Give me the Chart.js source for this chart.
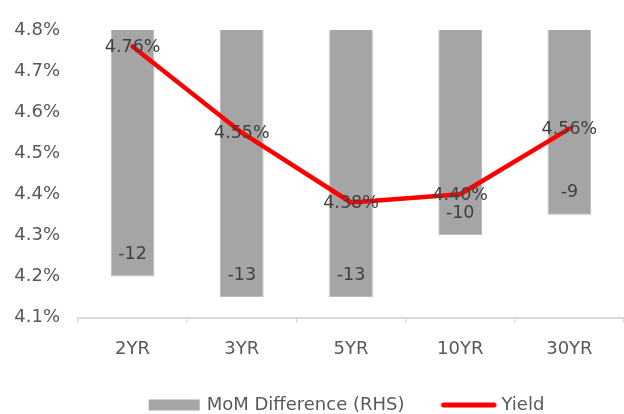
<!DOCTYPE html>
<html>
<head>
<meta charset="utf-8">
<script src="https://cdn.jsdelivr.net/npm/chart.js@4/dist/chart.umd.min.js"></script>
<style>
  html, body { margin: 0; padding: 0; background: #ffffff; }
  #wrap { width: 624px; height: 414px; }
</style>
</head>
<body>
<div id="wrap"><canvas id="c" width="624" height="414"></canvas></div>
<script>
// Treasury curve: month-on-month change (bp, right axis) and current yield (%)
const categories = ['2YR', '3YR', '5YR', '10YR', '30YR'];
const momDifference = [-12, -13, -13, -10, -9];
const yieldPct = [4.76, 4.55, 4.38, 4.40, 4.56];
const yieldTicks = [4.1, 4.2, 4.3, 4.4, 4.5, 4.6, 4.7, 4.8];
const momRange = [-14, 0];

const FONT = 'DejaVu Sans';
const TEXT = '#595959';
const LABEL = '#404040';
const BAR_COLOR = '#a5a5a5';
const BAR_EDGE = '#b9b9b9';
const LINE_COLOR = '#ff0000';

// legend swatches drawn into small canvases
function makeSwatch(w, h, draw) {
  const cv = document.createElement('canvas');
  cv.width = w; cv.height = h;
  draw(cv.getContext('2d'));
  return cv;
}
const barSwatch = makeSwatch(66, 12, g => {
  g.fillStyle = BAR_COLOR;
  g.fillRect(14, 0.5, 51, 11);
});
const lineSwatch = makeSwatch(74, 12, g => {
  g.strokeStyle = LINE_COLOR;
  g.lineWidth = 5;
  g.lineCap = 'round';
  g.beginPath();
  g.moveTo(18, 6);
  g.lineTo(68.5, 6);
  g.stroke();
});

// value labels: bar values near the bar end, yields centred on the points
const valueLabels = {
  id: 'valueLabels',
  afterDatasetsDraw(chart) {
    const ctx = chart.ctx;
    ctx.save();
    ctx.textAlign = 'center';
    ctx.textBaseline = 'middle';
    ctx.fillStyle = LABEL;
    ctx.font = '17.5px "' + FONT + '"';
    const barMeta = chart.getDatasetMeta(1);
    barMeta.data.forEach((el, i) => {
      ctx.fillText(String(momDifference[i]), el.x, el.y - 22);
    });
    const lineMeta = chart.getDatasetMeta(0);
    lineMeta.data.forEach((el, i) => {
      ctx.fillText(yieldPct[i].toFixed(2) + '%', el.x, el.y + 1);
    });
    ctx.restore();
  }
};

// place the legend row under the axis labels, slightly right of centre
const legendPlacement = {
  id: 'legendPlacement',
  afterLayout(chart) {
    const lg = chart.legend;
    if (!lg) return;
    const pad = lg.options.labels.padding;
    const h = lg.height;
    lg.top = 405 - 9 - pad;
    lg.bottom = lg.top + h;
    lg.left += 29;
    lg.right += 29;
  }
};

new Chart(document.getElementById('c'), {
  data: {
    labels: categories,
    datasets: [
      {
        type: 'line',
        label: 'Yield',
        data: yieldPct,
        yAxisID: 'y',
        borderColor: LINE_COLOR,
        backgroundColor: LINE_COLOR,
        borderWidth: 4.5,
        borderCapStyle: 'round',
        borderJoinStyle: 'round',
        pointRadius: 0,
        tension: 0,
        order: 0
      },
      {
        type: 'bar',
        label: 'MoM Difference (RHS)',
        data: momDifference,
        yAxisID: 'y2',
        backgroundColor: BAR_COLOR,
        borderColor: BAR_EDGE,
        borderWidth: 1,
        barPercentage: 0.4,
        categoryPercentage: 1.0,
        order: 1
      }
    ]
  },
  options: {
    responsive: false,
    animation: false,
    devicePixelRatio: 1,
    layout: { padding: { top: 30, left: 0, right: 0, bottom: 0 } },
    plugins: {
      tooltip: { enabled: false },
      legend: {
        display: true,
        position: 'bottom',
        labels: {
          usePointStyle: true,
          pointStyleWidth: 60,
          padding: 28,
          color: TEXT,
          font: { family: FONT, size: 18 },
          generateLabels() {
            return [
              { text: 'MoM Difference (RHS)', pointStyle: barSwatch, datasetIndex: 1, hidden: false, fontColor: TEXT, lineWidth: 0, strokeStyle: 'rgba(0,0,0,0)', fillStyle: BAR_COLOR },
              { text: 'Yield', pointStyle: lineSwatch, datasetIndex: 0, hidden: false, fontColor: TEXT, lineWidth: 0, strokeStyle: 'rgba(0,0,0,0)', fillStyle: LINE_COLOR }
            ];
          }
        }
      }
    },
    scales: {
      x: {
        offset: true,
        grid: {
          offset: true,
          drawOnChartArea: false,
          drawTicks: true,
          tickLength: 5,
          color: '#d9d9d9',
          lineWidth: 1.5
        },
        border: { display: true, color: '#d9d9d9', width: 2 },
        ticks: {
          color: TEXT,
          font: { family: FONT, size: 18 },
          padding: 16,
          maxRotation: 0
        },
        afterFit(scale) {
          const lg = scale.chart.legend;
          const lgH = lg ? lg.height : 0;
          scale.height = 414 - lgH - 317.5;
        }
      },
      y: {
        position: 'left',
        min: yieldTicks[0],
        max: yieldTicks[yieldTicks.length - 1],
        grid: { display: false, drawTicks: false },
        border: { display: false },
        ticks: {
          color: TEXT,
          font: { family: FONT, size: 18 },
          padding: 18,
          callback: v => Number(v).toFixed(1) + '%'
        },
        afterBuildTicks(scale) {
          scale.ticks = yieldTicks.map(v => ({ value: v }));
        },
        afterFit(scale) {
          scale.width = 78;
        }
      },
      y2: {
        position: 'right',
        display: false,
        min: momRange[0],
        max: momRange[1]
      }
    }
  },
  plugins: [valueLabels, legendPlacement]
});
</script>
</body>
</html>
